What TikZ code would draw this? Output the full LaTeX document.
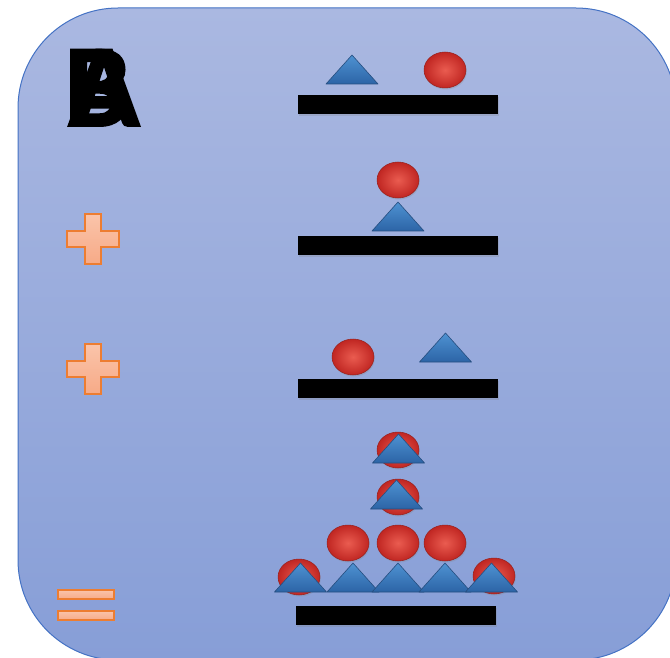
\documentclass[tikz,border=0pt]{standalone}
\usepackage{fontspec}
\newfontfamily\abfont{Carlito}[BoldFeatures={FakeBold=1.6}]
\usetikzlibrary{shapes.geometric,shadows,calc}
\definecolor{bgtop}{RGB}{170,184,225}
\definecolor{bgbot}{RGB}{135,158,215}
\definecolor{bgline}{RGB}{68,114,196}
\definecolor{orfill}{RGB}{247,170,135}
\definecolor{orlight}{RGB}{250,196,170}
\definecolor{orline}{RGB}{237,125,49}
\definecolor{ballin}{RGB}{234,92,80}
\definecolor{ballout}{RGB}{192,38,34}
\definecolor{ballline}{RGB}{150,34,30}
\definecolor{tritop}{RGB}{78,146,210}
\definecolor{tribot}{RGB}{44,100,166}
\definecolor{triline}{RGB}{38,78,128}
\tikzset{
  bgbox/.style={draw=bgline, line width=1pt, top color=bgtop, bottom color=bgbot, rounded corners=100pt},
  ball/.style={ellipse, minimum width=42pt, minimum height=36pt, inner sep=0pt, draw=ballline, line width=0.5pt,
    inner color=ballin, outer color=ballout, drop shadow={opacity=0.25, shadow xshift=0.8pt, shadow yshift=-1.5pt}},
  bar/.style={fill=black, inner sep=0pt, minimum width=200pt, minimum height=19pt,
    drop shadow={opacity=0.25, shadow xshift=1pt, shadow yshift=-2pt}},
  tri/.style={draw=triline, line width=0.6pt, top color=tritop, bottom color=tribot, line join=round},
  sign/.style={draw=orline, line width=1.3pt, top color=orlight, bottom color=orfill},
  letter/.style={anchor=base west, inner sep=0pt, font=\abfont\bfseries\fontsize{118}{118}\selectfont, text=black}
}
\newcommand\mytri[3]{%
  \coordinate (#1) at (#2,#3);
  \draw[tri] ($(#1)+(-26,0)$) -- ($(#1)+(0,-29)$) -- ($(#1)+(26,0)$) -- cycle;}
\newcommand\myplus[3]{%
  \coordinate (#1) at (#2,#3);
  \draw[sign] ($(#1)+(-8,-25)$) -- ++(16,0) -- ++(0,17) -- ++(18,0) -- ++(0,16) -- ++(-18,0) -- ++(0,17)
    -- ++(-16,0) -- ++(0,-17) -- ++(-18,0) -- ++(0,-16) -- ++(18,0) -- cycle;}
\begin{document}
\begin{tikzpicture}[x=1pt,y=-1pt]
\useasboundingbox (0,0) rectangle (670,658);
\clip (0,0) rectangle (670,658);
\path[bgbox] (18,8) rectangle (676,660);
% letters
\node[letter] (A) at (68,126) {A};
\node[letter] (B) at (64,126) {B};
% row 1
\node[bar] (bar1) at (398,104.5) {};
\mytri{t1}{352}{84}
\node[ball] (b1) at (445,70) {};
% row 2
\node[bar] (bar2) at (397.5,245.5) {};
\node[ball] (b2) at (398,180) {};
\mytri{t2}{398}{231}
\myplus{p1}{93}{239}
% row 3
\node[bar] (bar3) at (398,388.5) {};
\node[ball] (b3) at (353,357) {};
\mytri{t3}{445.5}{362}
\myplus{p2}{93}{369}
% row 4
\node[bar] (bar4) at (396,615) {};
\node[ball] (b4a) at (398,450) {};
\mytri{t4a}{398.5}{463}
\node[ball] (b4b) at (398,497) {};
\mytri{t4b}{396.5}{509}
\node[ball] (b4c) at (348,543) {};
\node[ball] (b4d) at (398,543) {};
\node[ball] (b4e) at (445,543) {};
\node[ball] (b4f) at (299,577) {};
\node[ball] (b4g) at (494,576) {};
\mytri{t4c}{300.5}{592}
\mytri{t4d}{353}{592}
\mytri{t4e}{398}{592}
\mytri{t4f}{445}{592}
\mytri{t4g}{491.5}{592}
% equals
\draw[sign] (58,590) rectangle (114,599);
\draw[sign] (58,611) rectangle (114,620);
\end{tikzpicture}
\end{document}
